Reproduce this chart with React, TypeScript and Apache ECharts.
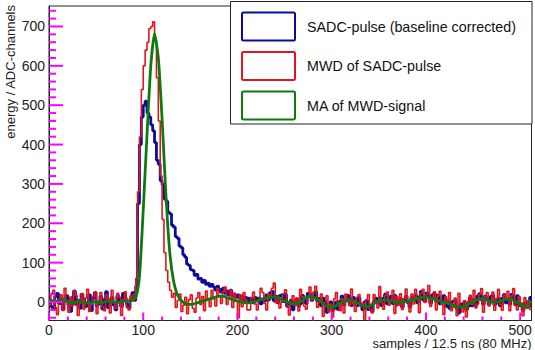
import React, { useEffect, useRef } from "react";
import * as echarts from "echarts";

const X_MAX = 512;
const FINE_STEP = 2;
const MA_STEP = 4;

const SADC_PULSE = [
  6, -12, -18, 14, 22, -4, 10, -20, 2, 16,
  -8, -24, 12, 28, -6, 4, -16, 20, 8, -12,
  -2, 18, -22, 10, 24, -10, -4, 14, -18, 6,
  26, -14, 2, 12, -8, -20, 16, 4, -12, 22,
  10, -6, -16, 8, 24, 4,
  40, 250, 400, 470, 500, 510, 480, 470, 450, 435,
  405, 360, 350, 308, 298, 262, 256, 228, 224, 195,
  190, 166, 162, 142, 138, 120, 114, 96, 93, 82,
  80, 68, 70, 58, 60, 50, 55, 45, 48, 40,
  45, 38, 30, 40, 32, 25, 35, 22, 28, 18,
  30, 15, 20, 12, 18, 8, 15, 5, 12, 0,
  10, 6, -2, 12, 4, 10, -5, 8, 2,
  18, 5, 24, 27, 3, 15, -2, 16, 18, 1,
  19, -11, -3, 5, -20, -1, 8, -11, -4, 17,
  8, -4, 22, 20, 4, 11, 26, 2, 9, -10,
  10, 2, -26, -11, 0, -22, -16, 0, -19, 2,
  15, -8, 4, 17, -1, -9, 12, 6, -10, 11,
  -8, -20, 0, 4, -19, -8, -24, 1, 10, -3,
  11, -9, 10, 20, -5, 2, 15, -4, 17, -8,
  0, 9, -13, 6, 15, -2, -13, 12, 7, 18,
  -2, 13, 27, 6, 1, 23, 14, -3, 18, 22,
  2, 17, -5, 0, 16, -11, 3, -16, -2, 2,
  4, -17, -28, -5, -11, 0, -20, -11, 11, -10,
  6, -9, 15, 21, 6, -6, 15, 10, -6, 14,
  17, -7, -3, 10, -10, 9, 19, -2, 7, -6,
  19, 10, -7, 16, -9, -4, -21, -3, 0, -13,
  12,
];

const MWD_SIGNAL = [
  -8, 22, 30, -14, -32, 6, 18, -20, 35, 4,
  -26, 12, -10, 28, 16, -34, -4, 20, -18, 10,
  32, -24, -6, 14, 26, -30, 2, 24, -12, -22,
  18, 8, -28, 30, -2, -16, 22, 12, -34, 6,
  26, -14, -20, 16, 4, 20,
  60, 280, 420, 540, 600, 640, 660, 695, 700, 712,
  665, 570, 460, 320, 210, 125, 80, 50, 30, 12,
  22, -14, 4, 20, -24, -8, 12, -30, 6, 18,
  -16, -26, 10, 24, -6, 14, -22, 28, 4, -12,
  30, 8, -10, 34, 16, -4, 26, 38, -6, 12,
  30, -14, 22, 2, -40, 18, -12, 24, 6, -20,
  -20, 11, 25, -5, -20, 7, 35, 24, -4, -20,
  19, 8, 35, 48, -2, 14, -15, 0, 21, 31,
  -9, -33, 3, 16, -9, 10, -23, 32, 13, -10,
  -18, 12, 38, 6, 25, 40, -14, -1, 20, -37,
  -2, 16, -25, -6, -38, 8, 24, -9, -22, 9,
  -28, 20, 7, -9, 33, -4, -24, 12, 19, -10,
  -2, -44, 6, 19, -20, -28, 19, 2, -15, 39,
  -1, -18, 16, 25, -8, 5, 30, -29, 14, -8,
  21, -19, 8, 33, -2, -25, 20, -5, 32, 8,
  -27, 23, 32, -1, 19, 42, -11, 8, 26, -20,
  15, 27, -6, -32, 13, 1, 24, -22, -14, 10,
  -35, 22, -11, -25, 4, -38, 1, 17, -6, 30,
  -15, -5, 19, 34, -26, 13, 24, -10, 0, 25,
  -21, 9, 32, -6, -21, 19, 10, 27, -22, 15,
  34, -9, -20, 13, -4, -35, 11, -16, 3, -19,
];

const MA_SIGNAL = [
  5, 3, 2, 4, 5, 2, -2, -1, 2, 0,
  -3, -2, 1, 0, -2, 1, 3, 0, -2, 1,
  3, 2, 4, 10, 65, 234, 425, 600, 682, 620,
  465, 275, 130, 55, 20, 5, -3, -6, -6, -3,
  0, 3, 6, 9, 12, 14, 15, 12, 8, 5,
  2, 0, -2, -2, 0, 2, 5, 8, 11, 13,
  13, 10, 5, 1, -3, -5, -3, 3, 10, 14,
  13, 8, 2, -6, -13, -14, -10, -4, 2, 5,
  5, 2, -3, -8, -12, -10, -5, 1, 5, 6,
  4, 2, 0, -1, 0, 2, 4, 6, 9, 12,
  13, 11, 8, 5, 2, -1, -4, -8, -11, -13,
  -12, -7, -2, 3, 7, 8, 6, 2, -1, 0,
  3, 6, 8, 6, 0, -6, -11, -9, 2,
];

const SERIES_NAMES = [
  "SADC-pulse (baseline corrected)",
  "MWD of SADC-pulse",
  "MA of MWD-signal",
];
const SERIES_COLORS = ["#0c0c9c", "#e0161c", "#0d7a0d"];

const X_MAJOR = [0, 100, 200, 300, 400, 500];
const Y_MAJOR = [0, 100, 200, 300, 400, 500, 600, 700];
const X_MIN = 0;
const Y_MIN = -47;
const Y_MAX = 752;
const MINOR_STEP = 20;
const MAJOR_STEP = 100;

const X_TITLE = "samples / 12.5 ns (80 MHz)";
const Y_TITLE = "energy / ADC-channels";

const FONT = "'Liberation Sans', Arial, Helvetica, sans-serif";
const INK = "#222";
const TICK_INK = "#ff00ff";

function tickValues(from: number, to: number, step: number) {
  const out: number[] = [];
  for (let v = from; v <= to; v += step) out.push(v);
  return out;
}

function toBins(values: number[], step: number) {
  const pts: [number, number][] = values.map((v, i) => [i * step, v]);
  const last = values[values.length - 1];
  const end = values.length * step;
  if (end <= X_MAX) pts.push([end, last]);
  return pts;
}

const FRAME = { left: 49, top: 6, width: 482.5, height: 314.5 };
const LEGEND_BOX = { x: 230.5, y: 1.5, width: 301.5, height: 122.5 };
const LEGEND_ICON = { x: 242, y: 12.5, width: 53, height: 28, pitch: 39.5 };
const LEGEND_TEXT_X = 307;

export default function App() {
  const ref = useRef<HTMLDivElement>(null);

  useEffect(() => {
    if (!ref.current) return;
    const chart = echarts.init(ref.current, null, { renderer: "svg" });
    const X_TICKS = tickValues(0, 500, MINOR_STEP);
    const Y_TICKS = tickValues(-40, 740, MINOR_STEP);

    const legendGraphics: any[] = [
      { type: "rect", z: 100, silent: true, shape: { ...LEGEND_BOX }, style: { fill: "#fff", stroke: INK, lineWidth: 1 } },
    ];
    SERIES_NAMES.forEach((name, i) => {
      const top = LEGEND_ICON.y + i * LEGEND_ICON.pitch;
      legendGraphics.push({
        type: "rect", z: 101, silent: true,
        shape: { x: LEGEND_ICON.x, y: top, width: LEGEND_ICON.width, height: LEGEND_ICON.height, r: 1.5 },
        style: { fill: "#fff", stroke: SERIES_COLORS[i], lineWidth: 2 },
      });
      legendGraphics.push({
        type: "text", z: 101, silent: true, x: LEGEND_TEXT_X, y: top + LEGEND_ICON.height / 2,
        style: { text: name, fontSize: 14.3, fill: "#111", fontFamily: FONT, align: "left", verticalAlign: "middle" },
      });
    });

    chart.setOption({
      animation: false,
      backgroundColor: "#fff",
      textStyle: { fontFamily: FONT },
      grid: { ...FRAME, show: true, borderColor: INK, borderWidth: 1 },
      xAxis: {
        type: "value", min: X_MIN, max: X_MAX,
        axisLine: { show: true, onZero: false, lineStyle: { color: INK, width: 1 } },
        splitLine: { show: false },
        axisTick: { show: false },
        axisLabel: { show: true, customValues: X_MAJOR, fontSize: 14, lineHeight: 12, color: INK, margin: 3, fontFamily: FONT },
      },
      yAxis: {
        type: "value", min: Y_MIN, max: Y_MAX,
        axisLine: { show: true, onZero: false, lineStyle: { color: INK, width: 1 } },
        splitLine: { show: false },
        axisTick: { show: false },
        axisLabel: { show: true, customValues: Y_MAJOR, fontSize: 14, lineHeight: 14, color: INK, margin: 4, fontFamily: FONT },
      },
      graphic: [
        ...legendGraphics,
        {
          type: "text", x: 10, y: 5, rotation: Math.PI / 2, silent: true,
          style: { text: Y_TITLE, fontSize: 13, lineHeight: 13, fill: INK, fontFamily: FONT, align: "right", verticalAlign: "middle" },
        },
        {
          type: "text", x: 531.5, y: 343.5, silent: true,
          style: { text: X_TITLE, fontSize: 13, lineHeight: 12, fill: INK, fontFamily: FONT, align: "right", verticalAlign: "middle" },
        },
      ],
      series: [
        {
          name: "x ticks", type: "custom", z: 6, clip: false,
          data: X_TICKS.map((v) => [v, Y_MIN]),
          renderItem: (params: any, api: any) => {
            const v = api.value(0);
            const p = api.coord([v, api.value(1)]);
            const len = v % MAJOR_STEP === 0 ? 8 : 4;
            return { type: "line", shape: { x1: p[0], y1: p[1], x2: p[0], y2: p[1] - len }, style: { stroke: TICK_INK, lineWidth: 2 } };
          },
        },
        {
          name: "y ticks", type: "custom", z: 6, clip: false,
          data: Y_TICKS.map((v) => [X_MIN, v]),
          renderItem: (params: any, api: any) => {
            const v = api.value(1);
            const p = api.coord([api.value(0), v]);
            const len = v % MAJOR_STEP === 0 ? 14 : 7;
            return { type: "line", shape: { x1: p[0], y1: p[1], x2: p[0] + len, y2: p[1] }, style: { stroke: TICK_INK, lineWidth: 2 } };
          },
        },
        {
          name: SERIES_NAMES[0], type: "line",
          data: toBins(SADC_PULSE, FINE_STEP), step: "end", showSymbol: false, symbol: "none",
          color: SERIES_COLORS[0], lineStyle: { color: SERIES_COLORS[0], width: 2.8 }, z: 2,
        },
        {
          name: SERIES_NAMES[1], type: "line",
          data: toBins(MWD_SIGNAL, FINE_STEP), step: "end", showSymbol: false, symbol: "none",
          color: SERIES_COLORS[1], lineStyle: { color: SERIES_COLORS[1], width: 1.6 }, z: 3,
        },
        {
          name: SERIES_NAMES[2], type: "line",
          data: MA_SIGNAL.map((v, i) => [i * MA_STEP, v]), showSymbol: false, symbol: "none", smooth: 0.2,
          color: SERIES_COLORS[2], lineStyle: { color: SERIES_COLORS[2], width: 2.8 }, z: 4,
        },
      ],
    });
    return () => chart.dispose();
  }, []);

  return <div ref={ref} style={{ position: "fixed", left: 0, top: 0, width: 535, height: 350 }} />;
}
